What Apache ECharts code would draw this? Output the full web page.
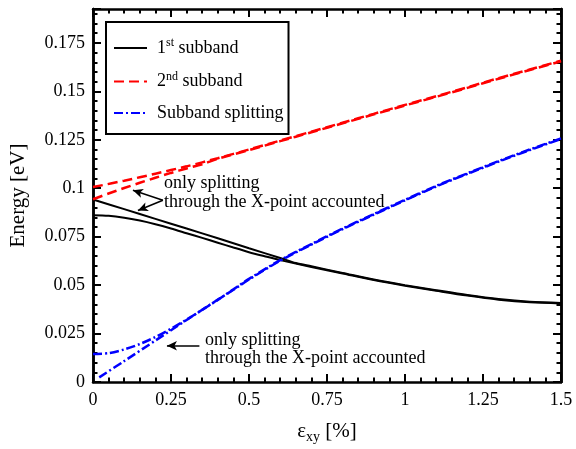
<!DOCTYPE html>
<html>
<head>
<meta charset="utf-8">
<script src="https://cdn.jsdelivr.net/npm/echarts@6/dist/echarts.min.js"></script>
<style>
  html, body { margin: 0; padding: 0; background: #fff; }
  #chart { width: 576px; height: 449px; }
</style>
</head>
<body>
<div id="chart"></div>
<script>
// strain eps_xy [%] and energies [eV]
const firstFullX = [0, 0.05, 0.1, 0.15, 0.2, 0.25, 0.3, 0.35, 0.4, 0.45, 0.5, 0.55, 0.6, 0.7, 0.8, 0.9, 1.0, 1.1, 1.2, 1.3, 1.4, 1.5];
const firstFull = [0.0861, 0.0858, 0.0848, 0.0833, 0.0814, 0.0792, 0.0768, 0.0744, 0.0719, 0.0694, 0.0670, 0.0649, 0.0629, 0.0594, 0.0560, 0.0526, 0.0497, 0.0471, 0.0446, 0.0425, 0.0411, 0.0405];
const firstXptX = [0, 0.1, 0.2, 0.3, 0.4, 0.5, 0.6, 0.65, 0.7, 0.8, 0.9, 1.0, 1.1, 1.2, 1.3, 1.4, 1.5];
const firstXpt = [0.0942, 0.0892, 0.0842, 0.0792, 0.0742, 0.0690, 0.0640, 0.0614, 0.0597, 0.0563, 0.0529, 0.0500, 0.0474, 0.0449, 0.0428, 0.0414, 0.0408];

const secondFullX = [0, 0.1, 0.2, 0.3, 0.4, 0.5, 0.6, 0.7, 0.8, 0.9, 1.0, 1.1, 1.2, 1.3, 1.4, 1.5];
const secondFull = [0.1006, 0.1039, 0.1075, 0.1113, 0.1155, 0.1200, 0.1246, 0.1292, 0.1338, 0.1384, 0.1430, 0.1475, 0.1521, 0.1568, 0.1613, 0.1658];
const secondXptX = [0, 0.05, 0.1, 0.15, 0.2, 0.25, 0.3, 0.35, 0.4, 0.5, 0.6, 0.7, 0.8, 0.9, 1.0, 1.1, 1.2, 1.3, 1.4, 1.5];
const secondXpt = [0.0943, 0.0973, 0.1001, 0.1028, 0.1054, 0.1079, 0.1102, 0.1124, 0.1152, 0.1197, 0.1243, 0.1289, 0.1335, 0.1381, 0.1427, 0.1472, 0.1518, 0.1565, 0.1610, 0.1655];

const splitFullX = [0, 0.05, 0.1, 0.15, 0.2, 0.25, 0.3, 0.35, 0.4, 0.45, 0.5, 0.6, 0.7, 0.8, 0.9, 1.0, 1.1, 1.2, 1.3, 1.4, 1.5];
const splitFull = [0.0145, 0.0149, 0.0168, 0.0196, 0.0232, 0.0275, 0.0322, 0.0372, 0.0424, 0.0478, 0.0532, 0.0629, 0.0712, 0.0792, 0.0867, 0.0940, 0.1012, 0.1077, 0.1140, 0.1200, 0.1257];
const splitXptX = [0.02, 0.1, 0.2, 0.3, 0.4, 0.45, 0.5, 0.6, 0.7, 0.8, 0.9, 1.0, 1.1, 1.2, 1.3, 1.4, 1.5];
const splitXpt = [0.0024, 0.0108, 0.0214, 0.0320, 0.0425, 0.0476, 0.0529, 0.0626, 0.0709, 0.0789, 0.0864, 0.0937, 0.1009, 0.1074, 0.1137, 0.1197, 0.1254];

const legendNames = ['1st subband', '2nd subband', 'Subband splitting'];
const legendLabels = ['1{s|st} subband', '2{s|nd} subband', 'Subband splitting'];
const noteText = 'only splitting\nthrough the X-point accounted';

const FONT = 'Liberation Serif';
const zip = (xs, ys) => xs.map((x, i) => [x, ys[i]]);

const chart = echarts.init(document.getElementById('chart'));

const black = { color: '#000', width: 2, type: 'solid' };
const red = { color: '#ff0000', width: 2.5, type: [10, 5] };
const blue = { color: '#0000ff', width: 2.5, type: [9, 3, 2, 3] };

function line(name, data, style) {
  return {
    name: name, type: 'line', data: data, showSymbol: false, symbol: 'none',
    smooth: 0.3, color: style.color, lineStyle: style, animation: false, z: 3
  };
}

const tickStyle = { color: '#000', width: 2 };
function xAx(pos, labels) {
  return {
    type: 'value', position: pos, min: 0, max: 1.5, interval: 0.25,
    name: labels ? 'ε{sub|xy} [%]' : '', nameLocation: 'middle', nameGap: 36,
    nameTextStyle: { fontFamily: FONT, fontSize: 21, color: '#000',
      rich: { sub: { fontFamily: FONT, fontSize: 14, color: '#000', padding: [12, 0, 0, 0] } } },
    axisLine: { show: true, onZero: false, lineStyle: { color: '#000', width: 2.5 } },
    axisTick: { show: true, inside: true, length: 8, lineStyle: tickStyle },
    minorTick: { show: true, splitNumber: 5, length: 4.5, lineStyle: tickStyle },
    axisLabel: { show: labels, margin: 9, fontFamily: FONT, fontSize: 18, color: '#000' },
    splitLine: { show: false }
  };
}
function yAx(pos, interval, len, labels) {
  return {
    type: 'value', position: pos, min: 0, max: 0.1925, interval: interval,
    name: labels ? 'Energy [eV]' : '', nameLocation: 'middle', nameGap: 64,
    nameTextStyle: { fontFamily: FONT, fontSize: 21, color: '#000' },
    axisLine: { show: true, onZero: false, lineStyle: { color: '#000', width: 2.5 } },
    axisTick: { show: true, inside: true, length: len, lineStyle: tickStyle },
    axisLabel: {
      show: labels, margin: 8, fontFamily: FONT, fontSize: 18, color: '#000',
      formatter: v => Math.abs(v / 0.025 - Math.round(v / 0.025)) < 1e-6 ? String(+v.toFixed(3)) : ''
    },
    splitLine: { show: false }
  };
}

const arrows = [
  [[0.224, 0.0938], [0.128, 0.0990]],
  [[0.224, 0.0938], [0.144, 0.0885]],
  [[0.341, 0.0187], [0.237, 0.0187]]
];

const option = {
  backgroundColor: '#fff',
  animation: false,
  grid: { left: 92, right: 15, top: 9, bottom: 62, containLabel: false },
  xAxis: [xAx('bottom', true), xAx('top', false)],
  yAxis: [yAx('left', 0.025, 8, true), yAx('left', 0.005, 4.5, false),
          yAx('right', 0.025, 8, false), yAx('right', 0.005, 4.5, false)],
  legend: {
    data: legendNames, orient: 'vertical', left: 106, top: 22,
    padding: [15, 5, 12, 7], itemGap: 13.5, itemWidth: 33, itemHeight: 14,
    borderColor: '#000', borderWidth: 2, backgroundColor: '#fff',
    itemStyle: { opacity: 0 },
    formatter: name => legendLabels[legendNames.indexOf(name)],
    textStyle: {
      fontFamily: FONT, fontSize: 18, color: '#000', padding: [0, 0, 0, 5],
      rich: { s: { fontFamily: FONT, fontSize: 12, color: '#000', verticalAlign: 'top', padding: [0, 0, 10, 0] } }
    }
  },
  graphic: [
    { type: 'text', left: 164, top: 174, z: 10,
      style: { text: noteText, font: '18px "Liberation Serif"', fill: '#000', lineHeight: 19 } },
    { type: 'text', left: 205, top: 331, z: 10,
      style: { text: noteText, font: '18px "Liberation Serif"', fill: '#000', lineHeight: 18 } }
  ],
  series: [
    line(legendNames[0], zip(firstFullX, firstFull), black),
    line(legendNames[1], zip(secondFullX, secondFull), red),
    line(legendNames[2], zip(splitFullX, splitFull), blue),
    line(legendNames[0], zip(firstXptX, firstXpt), black),
    line(legendNames[1], zip(secondXptX, secondXpt), red),
    line(legendNames[2], zip(splitXptX, splitXpt), blue),
    {
      type: 'line', name: 'notes', data: [], silent: true, animation: false,
      markLine: {
        silent: true, animation: false, symbol: ['none', 'arrow'], symbolSize: [7, 10],
        label: { show: false },
        lineStyle: { color: '#000', width: 1.5, type: 'solid' },
        data: arrows.map(a => [{ coord: a[0] }, { coord: a[1] }])
      }
    }
  ]
};
chart.setOption(option);
</script>
</body>
</html>
